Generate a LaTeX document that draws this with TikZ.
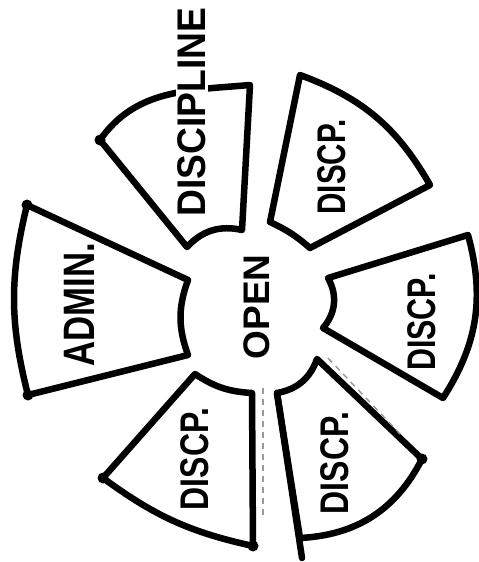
\documentclass[tikz,border=0pt]{standalone}
\usepackage{fontspec}
\setmainfont{Liberation Sans}
\newcommand\nar[2]{\scalebox{#1}[1]{#2}}
\begin{document}
\begin{tikzpicture}[x=1pt,y=1pt,
  sect/.style={draw=black,line width=6.5pt,line join=round,line cap=round},
  lbl/.style={rotate=90,inner sep=0pt,font=\fontsize{40}{40}\selectfont\bfseries},
  ghost/.style={draw=black!40,line width=1.4pt,dashed,dash pattern=on 6pt off 5pt},
  blob/.style={fill=black,circle,inner sep=0pt,minimum size=11pt}]
\useasboundingbox (0,0) rectangle (479,-562);
% sector 1 (DISCIPLINE)
\coordinate (s1a) at (100,-140);
\coordinate (s1b) at (250,-85);
\coordinate (s1c) at (242,-230);
\coordinate (s1d) at (187,-247);
\draw[sect] (s1a) to[out=55,in=185] (s1b) -- (s1c) to[bend right=30] (s1d) -- cycle;
% sector 2
\coordinate (s2a) at (300,-75);
\coordinate (s2b) at (430,-185);
\coordinate (s2c) at (310,-248);
\coordinate (s2d) at (270,-222);
\draw[sect] (s2a) to[bend left=20] (s2b) -- (s2c) to[bend right=8] (s2d) -- cycle;
% sector 3
\coordinate (s3a) at (468,-235);
\coordinate (s3b) at (443,-398);
\coordinate (s3c) at (323,-328);
\coordinate (s3d) at (328,-278);
\draw[sect] (s3a) to[bend left=24] (s3b) -- (s3c) to[bend right=35] (s3d) -- cycle;
% sector 4
\coordinate (s4a) at (422,-459);
\coordinate (s4b) at (300,-538);
\coordinate (s4c) at (277,-393);
\coordinate (s4d) at (317,-359);
\coordinate (s4e) at (302,-558);
\draw[sect] (s4a) to[bend left=30] (s4b) -- (s4c) to[bend right=30] (s4d) -- cycle;
\draw[sect] (s4c) -- (s4e);
% sector 5
\coordinate (s5a) at (253,-546);
\coordinate (s5b) at (103,-478);
\coordinate (s5c) at (195,-374);
\coordinate (s5d) at (252,-393);
\draw[sect] (s5a) to[bend left=12] (s5b) -- (s5c) to[bend right=15] (s5d) -- cycle;
% sector 6 (ADMIN.)
\coordinate (s6a) at (28,-395);
\coordinate (s6b) at (27,-205);
\coordinate (s6c) at (188,-280);
\coordinate (s6d) at (188,-355);
\draw[sect] (s6a) to[bend left=14] (s6b) -- (s6c) to[bend right=20] (s6d) -- cycle;
% faint ghost strokes
\coordinate (g1) at (263,-388);
\coordinate (g2) at (263,-516);
\coordinate (g3) at (328,-358);
\coordinate (g4) at (402,-436);
\draw[ghost] (g1) -- (g2);
\draw[ghost] (g3) -- (g4);
% corner blobs
\node[blob] (b1) at (s1a) {};
\node[blob] (b2) at (s6a) {};
\node[blob] (b3) at (s6b) {};
\node[blob] (b4) at (s5b) {};
\node[blob] (b5) at (s5a) {};
\node[blob] (b6) at (s4a) {};
% labels
\node[lbl,font=\fontsize{37}{37}\selectfont\bfseries] (open) at (257,-307) {OPEN};
\node[lbl,fill=white,inner sep=2pt] (discipline) at (192,-112) {\nar{0.93}{DISCIPLINE}};
\node[lbl] (d2) at (332,-167) {\nar{0.74}{DISCP.}};
\node[lbl] (d3) at (422,-322) {\nar{0.76}{DISCP.}};
\node[lbl] (d4) at (335,-463) {\nar{0.8}{DISCP.}};
\node[lbl] (d5) at (195,-459) {\nar{0.8}{DISCP.}};
\node[lbl,font=\fontsize{44}{44}\selectfont\bfseries] (admin) at (79,-305) {\nar{0.79}{ADMIN.}};
\end{tikzpicture}
\end{document}
